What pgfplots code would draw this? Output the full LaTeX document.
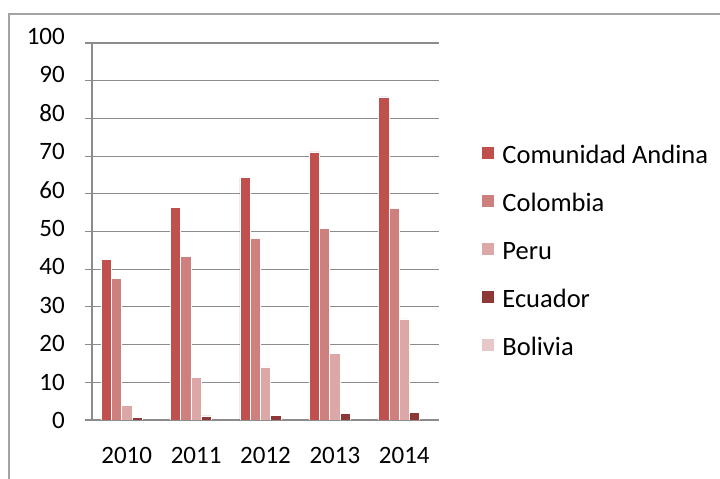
\documentclass[border=0pt]{standalone}
\usepackage{pgfplots}
\pgfplotsset{compat=1.18}
\usepackage{fontspec}
\setmainfont{Carlito}
\definecolor{cA}{RGB}{192,80,77}
\definecolor{cB}{RGB}{205,128,126}
\definecolor{cC}{RGB}{219,168,167}
\definecolor{cD}{RGB}{140,56,54}
\definecolor{cE}{RGB}{230,200,200}
\definecolor{lgray}{RGB}{140,140,140}
\begin{document}
\fontsize{25bp}{30bp}\selectfont
\begin{tikzpicture}
\useasboundingbox (0bp,0bp) rectangle (720bp,479bp);
\draw[lgray!80, line width=1.2bp] (9bp,0bp) -- (9bp,465bp) -- (720bp,465bp);
\begin{axis}[at={(92bp,59bp)}, anchor=south west, scale only axis,
  width=347bp, height=377bp,
  ybar=0pt, bar width=0.148,
  xmin=-0.5, xmax=4.5, ymin=0, ymax=100,
  ytick={0,10,...,100},
  xtick={0,1,2,3,4}, xticklabels={2010,2011,2012,2013,2014},
  /pgf/number format/assume math mode=true,
  ymajorgrids, grid style={lgray, line width=1.1bp},
  axis x line*=bottom, axis y line*=left,
  axis line style={lgray, line width=1.1bp},
  x tick style={draw=none},
  y tick style={lgray, line width=1.1bp},
  tick align=outside, major tick length=7bp,
  yticklabel style={anchor=east, inner sep=0pt, xshift=-20bp, yshift=0.73bp*\ticknum-0.6bp},
  xticklabel style={anchor=north, inner sep=0pt, yshift=-20bp},
  tick label style={font=\fontsize{25bp}{30bp}\selectfont},
  legend style={at={(1.116,0.732)}, anchor=north west, draw=none, fill=none,
    font=\fontsize{26.5bp}{31bp}\selectfont, row sep=25bp,
    nodes={inner sep=0pt, text height=17bp, text depth=6bp},
    /tikz/every odd column/.append style={column sep=8bp}},
  legend cell align=left,
  legend image code/.code={\path[#1,draw=none] (0bp,-1bp) rectangle (12bp,11bp);},
  every axis plot/.append style={draw=white, line width=0.6bp},
]
\addplot[fill=cA] coordinates {(0,42.7) (1,56.4) (2,64.3) (3,71.1) (4,85.7)};
\addplot[fill=cB] coordinates {(0,37.6) (1,43.3) (2,48.1) (3,50.9) (4,56.2)};
\addplot[fill=cC] coordinates {(0,3.8) (1,11.3) (2,14.1) (3,17.7) (4,26.8)};
\addplot[fill=cD] coordinates {(0,0.6) (1,1.1) (2,1.2) (3,1.7) (4,2.1)};
\addplot[fill=cE] coordinates {(0,0) (1,0) (2,0) (3,0) (4,0)};
\legend{Comunidad Andina,Colombia,Peru,Ecuador,Bolivia}
\end{axis}
\end{tikzpicture}
\end{document}
